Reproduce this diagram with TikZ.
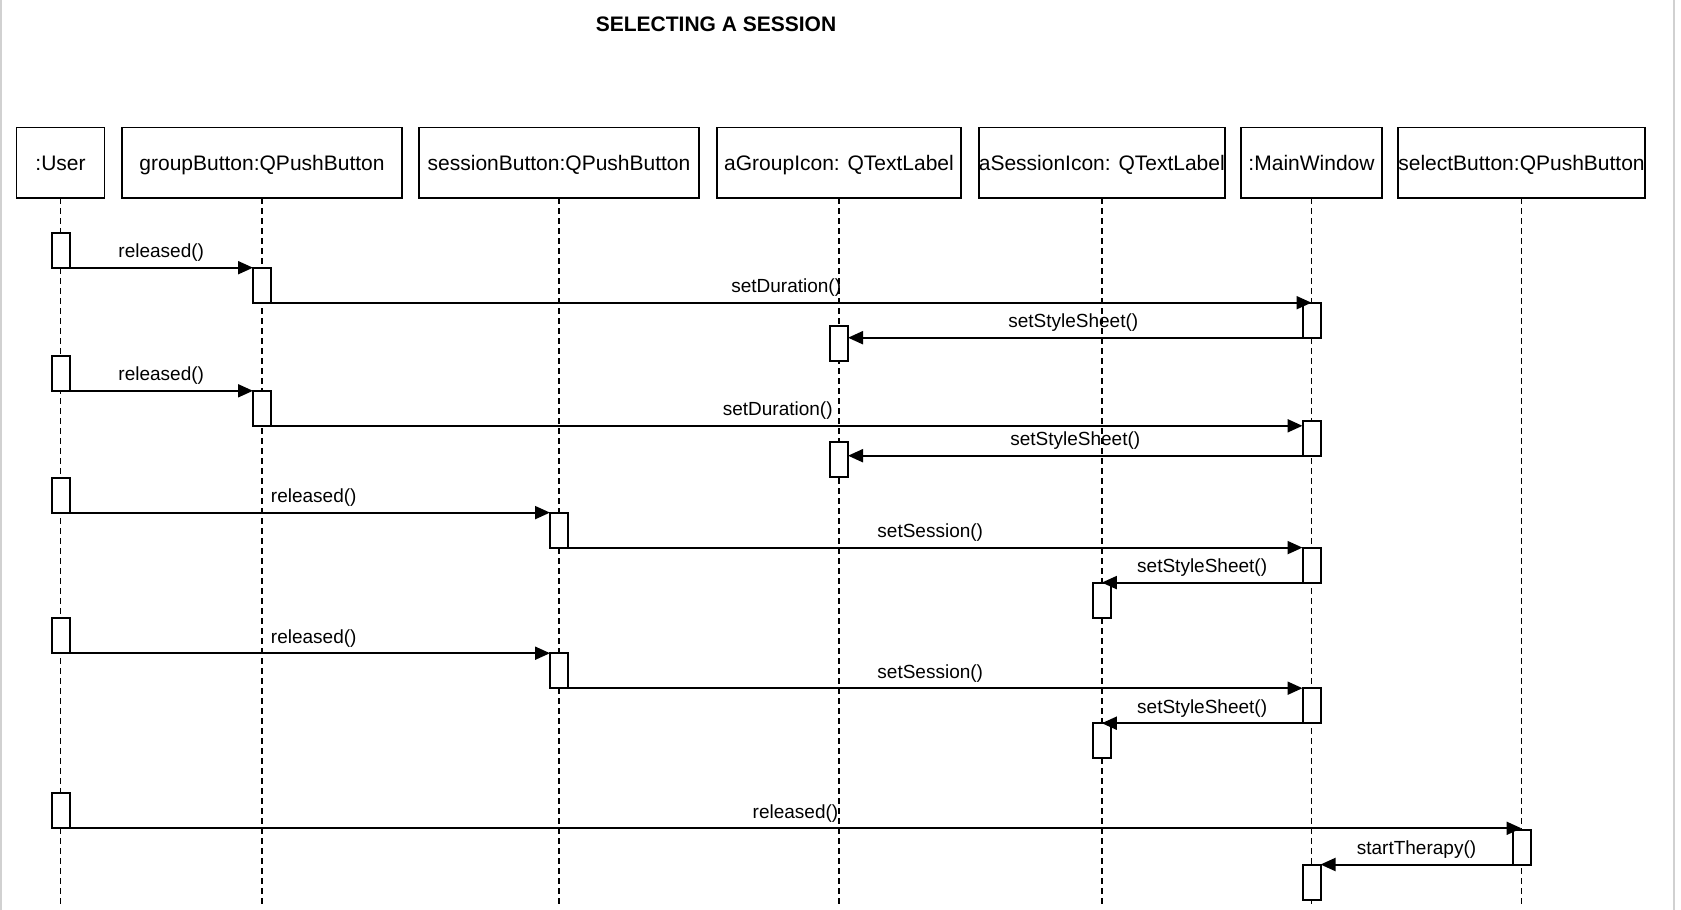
\documentclass[tikz,border=0pt]{standalone}
\usepackage{fontspec}
\setmainfont{Liberation Sans}
\usetikzlibrary{arrows.meta,calc}
\begin{document}
\begin{tikzpicture}[x=1pt,y=-1pt,
  objbox/.style={draw, line width=1.9pt, minimum height=70.5pt, inner sep=0pt, outer sep=0pt, text height=20pt, text depth=4.5pt, font=\fontsize{21}{25}\selectfont},
  actbox/.style={draw, fill=white, line width=2pt, minimum width=18pt, minimum height=35pt, inner sep=0pt, outer sep=0pt, anchor=north},
  lifeline/.style={line width=1.8pt, dash pattern=on 6pt off 4pt},
  msg/.style={line width=2pt, -{Triangle[length=15pt,width=13pt]}},
  lbl/.style={font=\fontsize{19}{23}\selectfont, inner sep=0pt, yshift=15pt},
  frame/.style={draw=black!18, line width=1.2pt}
]
\useasboundingbox (0,0) rectangle (1681,910);
\draw[frame] (1,0) -- (1,910);
\draw[frame] (1674,0) -- (1674,910);

\node[font=\bfseries\fontsize{21}{25}\selectfont, anchor=base] (title) at (716,31.7) {SELECTING A SESSION};

% objects
\node[objbox, minimum width=88pt]  (user)  at (60.5,162.75)  {:User};
\node[objbox, minimum width=280pt] (group) at (262,162.75)   {groupButton:QPushButton};
\node[objbox, minimum width=280pt] (sess)  at (559,162.75)   {sessionButton:QPushButton};
\node[objbox, minimum width=244pt] (agi)   at (839,162.75)   {aGroupIcon: QTextLabel};
\node[objbox, minimum width=244pt] (asi)   at (1101.8,162.75){aSessionIcon: QTextLabel};
\node[objbox, minimum width=141pt] (mw)    at (1311.5,162.75){:MainWindow};
\node[objbox, minimum width=246pt] (sel)   at (1521.5,162.75){selectButton:QPushButton};

\coordinate (bot) at (0,907);
\foreach \o in {user,group,sess,agi,asi,mw,sel}{
  \draw[lifeline] (\o.south) -- (\o.south |- bot);
}

% activations
\node[actbox] (u1) at (60.5,232.7) {};
\node[actbox] (g1) at (262,267.7) {};
\node[actbox] (m1) at (1311.5,302.7) {};
\node[actbox] (a1) at (839,326) {};
\node[actbox] (u2) at (60.5,355.8) {};
\node[actbox] (g2) at (262,390.8) {};
\node[actbox] (m2) at (1311.5,420.7) {};
\node[actbox] (a2) at (839,441.7) {};
\node[actbox] (u3) at (60.5,477.6) {};
\node[actbox] (s1) at (559,512.6) {};
\node[actbox] (m3) at (1311.5,547.6) {};
\node[actbox] (x1) at (1101.8,582.6) {};
\node[actbox] (u4) at (60.5,618.2) {};
\node[actbox] (s2) at (559,653.2) {};
\node[actbox] (m4) at (1311.5,688.2) {};
\node[actbox] (x2) at (1101.8,723.2) {};
\node[actbox] (u5) at (60.5,793.3) {};
\node[actbox] (e1) at (1521.5,829.5) {};
\node[actbox] (m5) at (1311.5,864.5) {};

% messages
\draw[msg] (u1.south east) -- (g1.north west) node[lbl, midway] {released()};
\draw[msg] (g1.south east) -- (m1.north) node[lbl, midway, xshift=-5pt] {setDuration()};
\draw[msg] (m1.south west) -- (a1.east |- m1.south west) node[lbl, midway, xshift=-2pt] {setStyleSheet()};
\draw[msg] (u2.south east) -- (g2.north west) node[lbl, midway] {released()};
\draw[msg] (g2.south east) -- (m2.west |- g2.south east) node[lbl, midway, xshift=-9pt] {setDuration()};
\draw[msg] (m2.south west) -- (a2.east |- m2.south west) node[lbl, midway] {setStyleSheet()};
\draw[msg] (u3.south east) -- (s1.north west) node[lbl, midway, xshift=4pt] {released()};
\draw[msg] (s1.south east) -- (m3.north west) node[lbl, midway, xshift=-5pt] {setSession()};
\draw[msg] (m3.south west) -- (x1.north) node[lbl, midway] {setStyleSheet()};
\draw[msg] (u4.south east) -- (s2.north west) node[lbl, midway, xshift=4pt] {released()};
\draw[msg] (s2.south east) -- (m4.north west) node[lbl, midway, xshift=-5pt] {setSession()};
\draw[msg] (m4.south west) -- (x2.north) node[lbl, midway] {setStyleSheet()};
\draw[msg] (u5.south east) -- (e1.north |- u5.south east) node[lbl, midway] {released()};
\draw[msg] (e1.south west) -- (m5.north east) node[lbl, midway] {startTherapy()};
\end{tikzpicture}
\end{document}
